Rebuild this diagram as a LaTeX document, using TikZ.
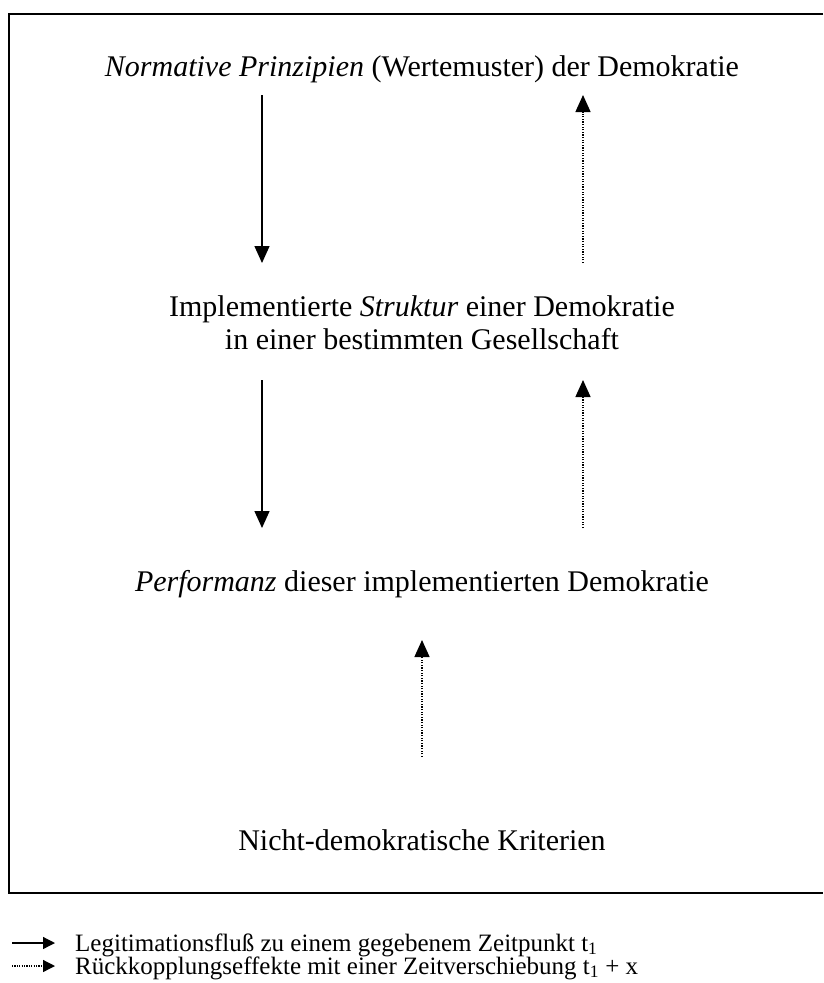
\documentclass[tikz,border=0pt]{standalone}
\usepackage{fontspec}
\setmainfont{Liberation Serif}
\usetikzlibrary{arrows.meta}
\begin{document}
\begin{tikzpicture}[x=1pt,y=-1pt,
  lbl/.style={inner sep=0pt, anchor=base, font=\fontsize{30}{35}\selectfont},
  legtext/.style={inner sep=0pt, anchor=base west, font=\fontsize{25}{26}\selectfont},
  flow/.style={line width=1.4pt, -{Triangle[width=15pt,length=17pt]}},
  feedback/.style={line width=1.4pt, dash pattern=on 1.3pt off 1.3pt, -{Triangle[width=15pt,length=17pt]}},
  legflow/.style={line width=1.3pt, -{Triangle[width=12pt,length=12pt]}},
  legfeedback/.style={line width=1.3pt, dash pattern=on 1.2pt off 1.2pt, -{Triangle[width=12pt,length=12pt]}},
  frameline/.style={line width=1.8pt}]
\useasboundingbox (0,0) rectangle (823,983);
% frame (open to the right)
\draw[frameline] (823,14) -- (9,14) -- (9,893) -- (823,893);
% texts
\node[lbl] (n1) at (422,76) {\textit{Normative Prinzipien} (Wertemuster) der Demokratie};
\node[lbl] (n2a) at (422,316) {Implementierte \textit{Struktur} einer Demokratie};
\node[lbl] (n2b) at (422,349) {in einer bestimmten Gesellschaft};
\node[lbl] (n3) at (422,591) {\textit{Performanz} dieser implementierten Demokratie};
\node[lbl] (n4) at (422,850) {Nicht-demokratische Kriterien};
% arrow end points
\coordinate (a1t) at (262,95);  \coordinate (a1b) at (262,263);
\coordinate (b1t) at (583,95);  \coordinate (b1b) at (583,263);
\coordinate (a2t) at (262,380); \coordinate (a2b) at (262,528);
\coordinate (b2t) at (583,380); \coordinate (b2b) at (583,528);
\coordinate (c3t) at (422,640); \coordinate (c3b) at (422,757);
\draw[flow] (a1t) -- (a1b);
\draw[feedback] (b1b) -- (b1t);
\draw[flow] (a2t) -- (a2b);
\draw[feedback] (b2b) -- (b2t);
\draw[feedback] (c3b) -- (c3t);
% legend
\coordinate (l1s) at (12,943); \coordinate (l1e) at (55,943);
\coordinate (l2s) at (12,966); \coordinate (l2e) at (55,966);
\draw[legflow] (l1s) -- (l1e);
\draw[legfeedback] (l2s) -- (l2e);
\node[legtext] (lt1) at (75,951) {Legitimationsfluß zu einem gegebenem Zeitpunkt t\textsubscript{1}};
\node[legtext] (lt2) at (75,974) {Rückkopplungseffekte mit einer Zeitverschiebung t\textsubscript{1} + x};
\end{tikzpicture}
\end{document}
